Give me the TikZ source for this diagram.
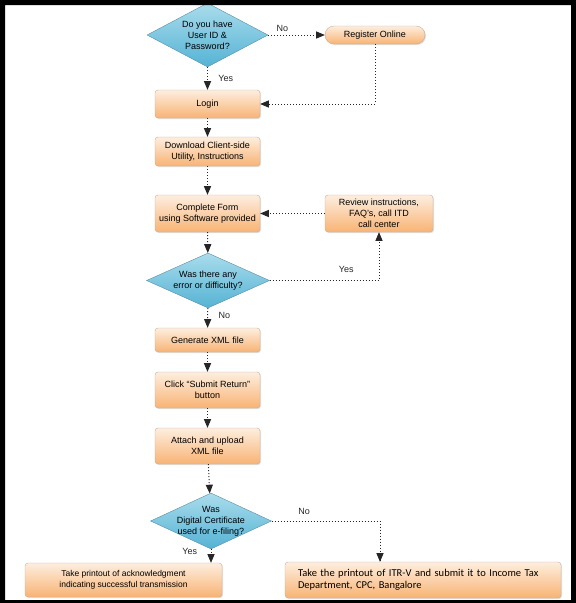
\documentclass[tikz,border=0pt]{standalone}
\usepackage{fontspec}
\setmainfont{Liberation Sans}
\newfontfamily\carlito{Carlito}
\usepackage{tikz}
\usetikzlibrary{shapes,arrows,shadows,positioning}

\definecolor{boxtop}{HTML}{FDEEDF}
\definecolor{boxbot}{HTML}{F8B374}
\definecolor{boxline}{HTML}{C9AE98}
\definecolor{diatop}{HTML}{A9DCEC}
\definecolor{diabot}{HTML}{55B3D4}
\definecolor{dialine}{HTML}{5E8DA2}

\begin{document}
\begin{tikzpicture}[x=1pt, y=-1pt]
			\tikzstyle{Step}	= [rectangle, rounded corners=3pt, draw=boxline, top color=boxtop, bottom color=boxbot, drop shadow={shadow xshift=1pt, shadow yshift=-1pt, opacity=0.25}, font=\fontsize{9}{11}\selectfont, align=center, inner sep=2pt]
			\tikzstyle{Query}	= [diamond, draw=dialine, top color=diatop, bottom color=diabot, inner sep=0pt]
			\tikzstyle{QText}	= [font=\fontsize{9}{11}\selectfont, align=center]
			\tikzstyle{Link}	= [dotted, line width=1pt, black!85, -triangle 45]
			\tikzstyle{Tag}		= [font=\fontsize{9}{11}\selectfont]

			\useasboundingbox (0,0) rectangle (576,603);

			\node (ask) at (207.5, 35) [Query, minimum width=121pt, minimum height=64pt, label={[QText]center:Do you have\\User ID \&\\Password?}] {};
			\node (reg) at (375, 35) [Step, rounded corners=9pt, minimum width=100pt, minimum height=18pt] {Register Online};
			\node (login) at (207.5, 104) [Step, minimum width=105pt, minimum height=28pt] {Login};
			\node (dl) at (207.5, 151.5) [Step, minimum width=105pt, minimum height=29pt] {Download Client-side\\Utility, Instructions};
			\node (form) at (207.5, 213.5) [Step, minimum width=105pt, minimum height=37pt] {Complete Form\\using Software provided};
			\node (review) at (379, 213.5) [Step, minimum width=108pt, minimum height=37pt] {Review instructions,\\FAQ's, call ITD\\call center};
			\node (err) at (208, 280.5) [Query, minimum width=123pt, minimum height=55pt, label={[QText]center:Was there any\\error or difficulty?}] {};
			\node (xml) at (207.5, 340) [Step, minimum width=105pt, minimum height=24pt] {Generate XML file};
			\node (submit) at (207.5, 390) [Step, minimum width=105pt, minimum height=36pt] {Click ``Submit Return''\\button};
			\node (upload) at (207.5, 446) [Step, minimum width=105pt, minimum height=36pt] {Attach and upload\\XML file};
			\node (cert) at (211, 521) [Query, minimum width=121pt, minimum height=56pt, label={[QText]center:Was\\Digital Certificate\\used for e-filing?}] {};
			\node (ack) at (123.5, 580) [Step, minimum width=197pt, minimum height=34pt, font=\fontsize{8.5}{11}\selectfont] {Take printout of acknowledgment\\indicating successful transmission};
			\node (itrv) at (423, 580) [Step, minimum width=276pt, minimum height=36pt, inner xsep=13pt, text width=250pt, align=left, font=\carlito\fontsize{10.5}{12}\selectfont] {Take the printout of ITR-V and submit it to Income Tax\\Department, CPC, Bangalore};

			\draw [Link] (ask) to node [Tag, above, pos=0.25] {No} (reg);
			\draw [Link] (reg) |- (login);
			\draw [Link] (ask) to node [Tag, right=7pt, pos=0.5] {Yes} (login);
			\draw [Link] (login) to (dl);
			\draw [Link] (dl) to (form);
			\draw [Link] (review) to (form);
			\draw [Link] (form) to (err);
			\draw [Link] (err) -| node [Tag, above=4pt, pos=0.35] {Yes} (review);
			\draw [Link] (err) to node [Tag, right=7pt, pos=0.35] {No} (xml);
			\draw [Link] (xml) to (submit);
			\draw [Link] (submit) to (upload);
			\draw [Link] (upload) to (cert);
			\draw [Link] (cert) to node [Tag, left=10pt, pos=0.2] {Yes} (cert |- ack.north);
			\draw [Link] (cert) -| node [Tag, above=3pt, pos=0.15] {No} ([xshift=-43pt]itrv.north);

			\fill [black, even odd rule] (0,0) rectangle (576,603) (5,5) rectangle (571,600);
		\end{tikzpicture}
\end{document}
